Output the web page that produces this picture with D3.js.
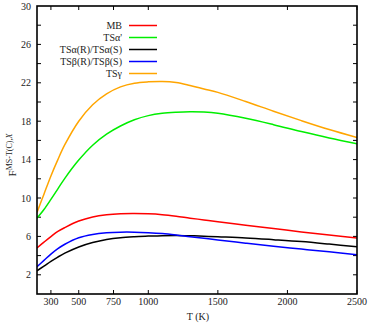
<!DOCTYPE html>
<html>
<head>
<meta charset="utf-8">
<script src="https://cdn.jsdelivr.net/npm/d3@7"></script>
<style>
html,body{margin:0;padding:0;background:#fff;}
svg text{font-family:"Liberation Serif","DejaVu Serif",serif;fill:#222;}
</style>
</head>
<body>
<svg id="chart" width="371" height="326"></svg>
<script>
const temps = [200,250,300,350,400,500,600,700,800,900,1000,1100,1200,1300,1400,1500,1700,1900,2100,2300,2500];
const mb      = [4.8,5.4,5.98,6.52,6.92,7.6,8.02,8.25,8.36,8.38,8.35,8.26,8.1,7.9,7.72,7.53,7.16,6.82,6.47,6.14,5.83];
const tsAlphaP= [7.9,8.8,9.85,10.95,12.05,13.95,15.5,16.65,17.5,18.15,18.58,18.82,18.93,18.98,18.95,18.82,18.3,17.64,16.92,16.25,15.65];
const tsAlphaRS=[2.42,2.9,3.4,3.85,4.25,4.9,5.36,5.68,5.87,5.97,6.03,6.08,6.1,6.07,6.02,5.96,5.84,5.66,5.46,5.2,4.92];
const tsBetaRS= [2.85,3.5,4.15,4.72,5.18,5.86,6.2,6.37,6.44,6.44,6.39,6.3,6.15,5.97,5.8,5.63,5.29,4.97,4.68,4.39,4.09];
const tsGamma = [8.5,10.4,12.3,14.0,15.55,18.0,19.72,20.85,21.58,21.96,22.1,22.14,22.03,21.72,21.36,21.0,20.05,19.04,18.06,17.13,16.3];

const seriesNames = ["MB","TSα'","TSα(R)/TSα(S)","TSβ(R)/TSβ(S)","TSγ"];
const seriesValues = [mb, tsAlphaP, tsAlphaRS, tsBetaRS, tsGamma];
const seriesColors = ["#ff0000","#00ee00","#000000","#0000ff","#ffa500"];

const xTicks = [300,500,750,1000,1500,2000,2500];
const yTickLabels = [2,6,10,14,18,22,26,30];
const yTicksAll = d3.range(2,30,2);

const svg = d3.select("#chart");
const L=37, R=357, T=6, B=294;
const x = d3.scaleLinear().domain([200,2500]).range([L,R]);
const y = d3.scaleLinear().domain([0,30]).range([B,T]);

const tk = 4;
const g = svg.append("g");
xTicks.forEach(v=>{
  g.append("line").attr("x1",x(v)).attr("x2",x(v)).attr("y1",B).attr("y2",B-tk).attr("stroke","#000").attr("stroke-width",1);
  g.append("line").attr("x1",x(v)).attr("x2",x(v)).attr("y1",T).attr("y2",T+tk).attr("stroke","#000").attr("stroke-width",1);
  g.append("text").attr("x",x(v)).attr("y",305).attr("text-anchor","middle").attr("font-size",10).text(v);
});
yTicksAll.forEach(v=>{
  g.append("line").attr("x1",L).attr("x2",L+tk).attr("y1",y(v)).attr("y2",y(v)).attr("stroke","#000").attr("stroke-width",1);
  g.append("line").attr("x1",R).attr("x2",R-tk).attr("y1",y(v)).attr("y2",y(v)).attr("stroke","#000").attr("stroke-width",1);
});
yTickLabels.forEach(v=>{
  g.append("text").attr("x",31).attr("y",y(v)+3.5).attr("text-anchor","end").attr("font-size",10).text(v);
});

const line = d3.line().x((d,i)=>x(temps[i])).y(d=>y(d)).curve(d3.curveCatmullRom.alpha(0.5));
svg.append("clipPath").attr("id","clp").append("rect").attr("x",L).attr("y",T).attr("width",R-L).attr("height",B-T);
seriesValues.forEach((vals,i)=>{
  svg.append("path").attr("d",line(vals)).attr("fill","none").attr("stroke",seriesColors[i]).attr("stroke-width",1.5).attr("clip-path","url(#clp)");
});

svg.append("rect").attr("x",L).attr("y",T).attr("width",R-L).attr("height",B-T).attr("fill","none").attr("stroke","#000").attr("stroke-width",1.6);

seriesNames.forEach((n,i)=>{
  const yy = 25.5 + i*12;
  svg.append("text").attr("x",122).attr("y",yy+3.5).attr("text-anchor","end").attr("font-size",10).text(n);
  svg.append("line").attr("x1",129).attr("x2",157).attr("y1",yy).attr("y2",yy).attr("stroke",seriesColors[i]).attr("stroke-width",1.5);
});

svg.append("text").attr("x",198).attr("y",320).attr("text-anchor","middle").attr("font-size",10).text("T (K)");
const yt = svg.append("text").attr("transform","translate(16,155) rotate(-90)").attr("text-anchor","middle").attr("font-size",11);
yt.append("tspan").text("F");
yt.append("tspan").attr("font-size",8).attr("dy",-4.5).text("MS-T(C),");
yt.append("tspan").attr("font-size",8).attr("font-style","italic").text("X");
</script>
</body>
</html>
